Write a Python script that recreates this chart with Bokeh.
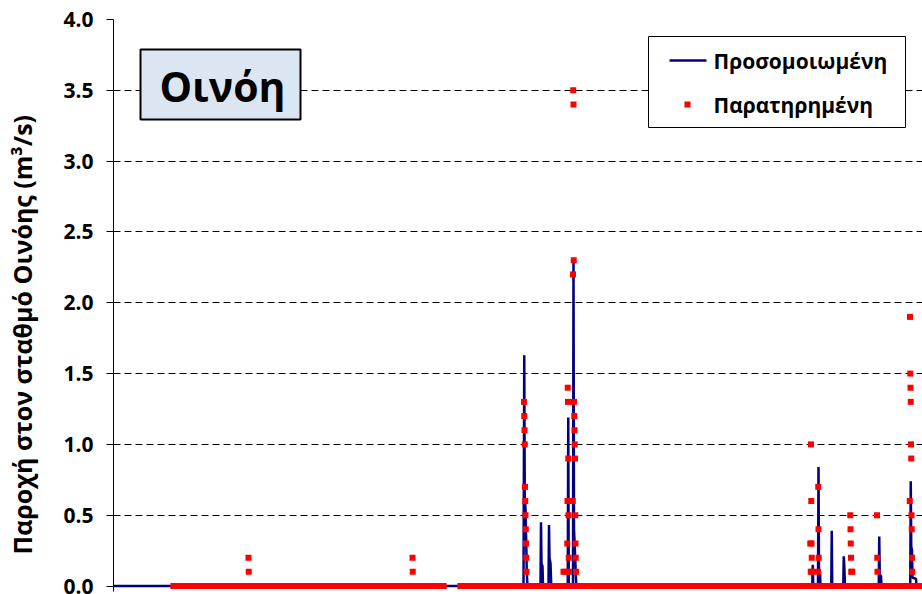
import numpy as np
from bokeh.plotting import figure
from bokeh.models import Range1d, FixedTicker, PrintfTickFormatter
from bokeh.core.properties import value
from bokeh.embed import file_html
from bokeh.resources import INLINE

# ---------------- data ----------------
# simulated discharge (day index, m3/s) - breakpoints of the daily series
sim_day = [0,
           1640, 1643, 1645, 1648, 1651, 1653, 1656,
           1708, 1710, 1712, 1716, 1718,
           1740, 1742, 1744, 1748, 1751,
           1817, 1819, 1821,
           1838, 1840, 1842, 1845, 1849, 1851,
           2795, 2797, 2799,
           2818, 2820, 2822, 2826, 2828,
           2871, 2873, 2875,
           2919, 2921, 2923, 2926,
           3061, 3063, 3065, 3070, 3072,
           3187, 3189, 3191, 3194, 3196, 3210, 3212,
           3260]
sim_q = [0.0,
         0.0, 1.63, 0.62, 0.55, 0.30, 0.10, 0.0,
         0.0, 0.45, 0.16, 0.14, 0.0,
         0.0, 0.43, 0.20, 0.16, 0.0,
         0.0, 1.19, 0.0,
         0.0, 2.30, 0.40, 0.28, 0.10, 0.0,
         0.0, 0.15, 0.0,
         0.0, 0.84, 0.10, 0.10, 0.0,
         0.0, 0.39, 0.0,
         0.0, 0.21, 0.15, 0.0,
         0.0, 0.35, 0.08, 0.07, 0.0,
         0.0, 0.74, 0.28, 0.25, 0.06, 0.05, 0.0,
         0.0]

# observed discharge, non-zero days
obs_day = [540, 541,
           1196, 1197,
           1642, 1643, 1644, 1645, 1646, 1647, 1648, 1649, 1650, 1651, 1652,
           1800, 1808,
           1815, 1816, 1817, 1818, 1819, 1820, 1821, 1822,
           1837, 1838, 1839, 1840, 1841, 1842, 1843, 1844, 1845, 1846, 1847, 1848, 1849, 1850,
           2787, 2789, 2790, 2791, 2792, 2793, 2794,
           2818, 2819, 2820, 2821,
           2947, 2948, 2949, 2950, 2951, 2955,
           3054, 3055, 3056,
           3185, 3186, 3187, 3188, 3189, 3190, 3191, 3192, 3193, 3194, 3195]
obs_q = [0.2, 0.1,
         0.2, 0.1,
         1.3, 1.2, 1.1, 1.0, 0.7, 0.6, 0.5, 0.4, 0.3, 0.2, 0.1,
         0.1, 0.1,
         0.3, 0.6, 1.4, 1.3, 0.9, 0.5, 0.2, 0.1,
         0.6, 2.2, 3.5, 3.4, 2.3, 1.3, 1.2, 1.1, 1.0, 0.9, 0.5, 0.3, 0.2, 0.1,
         0.3, 0.1, 1.0, 0.6, 0.3, 0.2, 0.1,
         0.1, 0.7, 0.4, 0.2,
         0.5, 0.4, 0.3, 0.2, 0.1, 0.1,
         0.5, 0.2, 0.1,
         0.6, 1.9, 1.5, 1.4, 1.3, 1.0, 0.9, 0.5, 0.4, 0.2, 0.1]

# periods (day index) in which the observed discharge is zero
obs_zero_periods = [(240, 1320), (1388, 3236)]

y_ticks = [0.0, 0.5, 1.0, 1.5, 2.0, 2.5, 3.0, 3.5, 4.0]
station_title = "Οινόη"
y_label = "Παροχή στον σταθμό Οινόης (m³/s)"
legend_labels = ["Προσομοιωμένη", "Παρατηρημένη"]

# ---------------- build observed series ----------------
nonzero = set(obs_day)
zero_days = [d for a, b in obs_zero_periods for d in range(a, b + 1) if d not in nonzero]
obs_x = zero_days + obs_day
obs_y = [0.0] * len(zero_days) + obs_q

# ---------------- figure ----------------
W, H = 922, 594
BL, BT, BB = 113, 19, 3
X_END = 3236
Y_END = 4.0
FRAME_W = W - BL
FRAME_H = H - BT - BB
PX_PER_UNIT = 141.625
Y_START = Y_END - FRAME_H / PX_PER_UNIT

FONT = value("Open Sans")

def dx(px):  # picture pixel -> data x (decoration placement)
    return (px - BL) * X_END / FRAME_W

def dy(py):  # picture pixel -> data y (decoration placement)
    return Y_END - (py - BT) / PX_PER_UNIT

p = figure(width=W, height=H, x_range=Range1d(0, X_END), y_range=Range1d(Y_START, Y_END),
           x_axis_location=None, toolbar_location=None, output_backend="svg",
           min_border_left=BL, min_border_right=0, min_border_top=BT, min_border_bottom=BB)
p.outline_line_color = None
p.background_fill_color = "white"
p.border_fill_color = "white"
p.xgrid.visible = False

ax = p.yaxis[0]
ax.ticker = FixedTicker(ticks=y_ticks)
ax.formatter = PrintfTickFormatter(format="%.1f")
ax.major_tick_out = 7
ax.major_tick_in = 0
ax.minor_tick_out = 0
ax.minor_tick_in = 0
ax.axis_line_color = "black"
ax.major_tick_line_color = "black"
ax.major_label_text_font = "Open Sans"
ax.major_label_text_font_style = "bold"
ax.major_label_text_font_size = "21px"
ax.major_label_text_color = "black"
ax.major_label_standoff = 13
# trailing no-break spaces shift the (centred) title a little below the frame centre, as in the reference
ax.axis_label = y_label + "\u00a0" * 9
ax.axis_label_text_font = "Open Sans"
ax.axis_label_text_font_style = "bold"
ax.axis_label_text_font_size = "25px"
ax.axis_label_text_color = "black"
ax.axis_label_standoff = 21

p.ygrid.grid_line_color = "black"
p.ygrid.grid_line_width = 1
p.ygrid.grid_line_dash = "7 4"

# data
p.line(sim_day, sim_q, line_color="#000080", line_width=2.5)
p.scatter(obs_x, obs_y, marker="square", size=6, fill_color="#ff0000", line_color=None)

# station title box
p.quad(left=[dx(140)], right=[dx(300)], top=[dy(49)], bottom=[dy(119)],
       fill_color="#dce6f2", line_color="black", line_width=2)
p.text(x=[dx(222)], y=[dy(85)], text=[station_title], text_font=FONT, text_font_style="bold",
       text_font_size="41px", text_align="center", text_baseline="middle", text_color="black")

# legend
p.quad(left=[dx(648)], right=[dx(905)], top=[dy(36)], bottom=[dy(127)],
       fill_color="white", line_color="black", line_width=1)
p.line(x=[dx(669), dx(706)], y=[dy(60), dy(60)], line_color="#000080", line_width=2.5)
p.scatter(x=[dx(687)], y=[dy(104)], marker="square", size=6, fill_color="#ff0000", line_color=None)
p.text(x=[dx(713), dx(713)], y=[dy(60), dy(104)], text=legend_labels, text_font=FONT,
       text_font_style="bold", text_font_size="21px", text_align="left", text_baseline="middle",
       text_color="black")

open("out.html", "w").write(file_html(p, INLINE))
